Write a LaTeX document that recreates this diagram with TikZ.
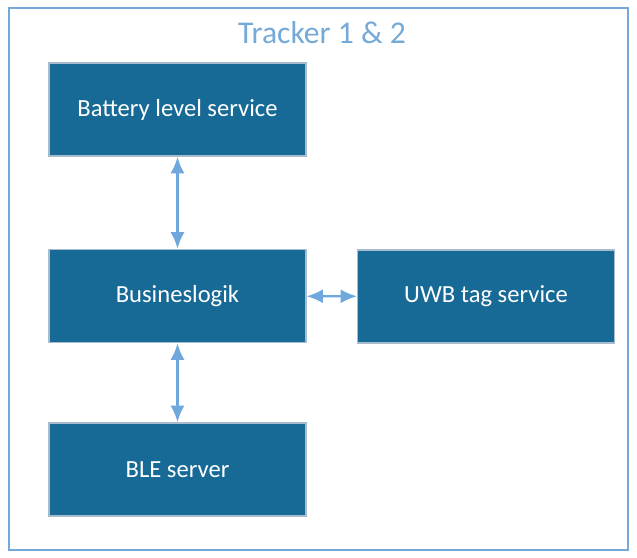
\documentclass[tikz,border=0pt]{standalone}
\usepackage{fontspec}
\setmainfont{Carlito}
\usetikzlibrary{arrows.meta}
\definecolor{boxblue}{HTML}{186A96}
\definecolor{boxedge}{HTML}{A7BCCE}
\definecolor{lineblue}{HTML}{6FA8DC}
\definecolor{titleblue}{HTML}{74A9D8}
\tikzset{
  service/.style = {
    fill=boxblue, draw=boxedge, line width=1.2pt,
    minimum width=7.7cm, minimum height=2.8cm,
    text=white, font=\fontsize{21}{25}\selectfont
  },
  link/.style = {lineblue, line width=2pt, <->}
}
\tikzset{>={Latex[length=14pt,width=12pt]}}
\begin{document}
\begin{tikzpicture}[x=0.03cm,y=-0.03cm]
  \useasboundingbox (0,0) rectangle (637,558);
  % frame
  \draw[titleblue, line width=1.2pt] (9,8) rectangle (628,550);
  \node[titleblue, font=\fontsize{27}{32}\selectfont] (title) at (322,33) {Tracker 1 \& 2};
  % services
  \node[service] (battery) at (177.5,109.5) {Battery level service};
  \node[service] (logic) at (177.5,296) {Busineslogik};
  \node[service] (uwb) at (486,296.5) {UWB tag service};
  \node[service] (ble) at (177.5,469.5) {BLE server};
  % links
  \draw[link] (battery) -- (logic);
  \draw[link] (logic) -- (uwb);
  \draw[link] (logic) -- (ble);
\end{tikzpicture}
\end{document}
